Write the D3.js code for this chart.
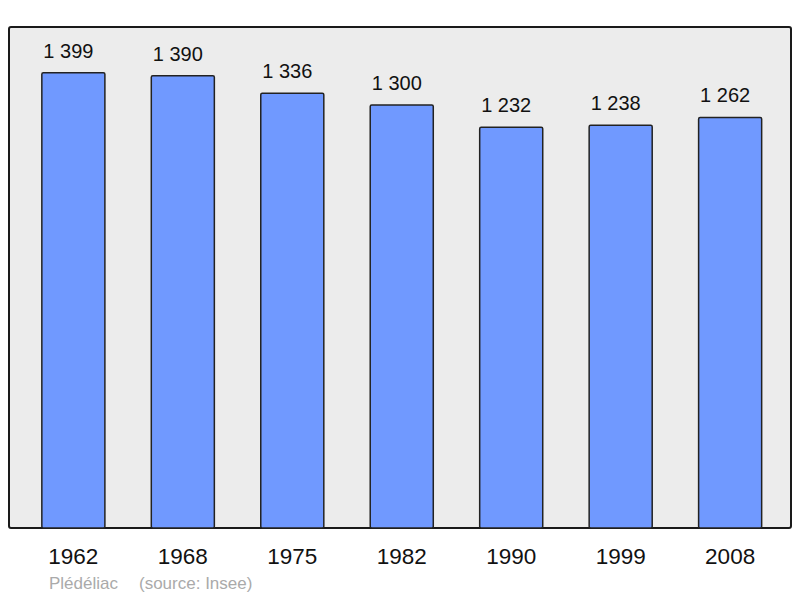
<!DOCTYPE html>
<html>
<head>
<meta charset="utf-8">
<script src="https://cdn.jsdelivr.net/npm/d3@7"></script>
<style>
  body { margin: 0; background: #fff; }
  text { font-family: "Liberation Sans", Arial, sans-serif; }
</style>
</head>
<body>
<div id="chart"></div>
<script>
var svgWidth = 800;
var svgHeight = 598;

// data
var years = ["1962", "1968", "1975", "1982", "1990", "1999", "2008"];
var population = [1399, 1390, 1336, 1300, 1232, 1238, 1262];
var commune = "Plédéliac";
var source = "(source: Insee)";

var frame = { left: 9, top: 27, right: 791, bottom: 528 };

var svg = d3.select("#chart")
    .append("svg")
    .attr("width", svgWidth)
    .attr("height", svgHeight);

// background frame
svg.append("rect")
    .attr("x", frame.left)
    .attr("y", frame.top)
    .attr("width", frame.right - frame.left)
    .attr("height", frame.bottom - frame.top)
    .attr("rx", 2)
    .attr("fill", "#ececec")
    .attr("stroke", "#1a1a1a")
    .attr("stroke-width", 2);

var xScale = d3.scaleBand()
    .domain(years)
    .range([9, 794.5])
    .paddingInner(0.424)
    .paddingOuter(0.3);

var yScale = d3.scaleLinear()
    .domain([0, 1540])
    .range([frame.bottom, frame.top]);

var data = years.map(function(y, i) {
    return { year: y, value: population[i] };
});

svg.selectAll("rect.bar")
    .data(data)
    .enter()
    .append("rect")
    .attr("class", "bar")
    .attr("x", d => xScale(d.year))
    .attr("y", d => yScale(d.value))
    .attr("width", xScale.bandwidth())
    .attr("height", d => frame.bottom - yScale(d.value))
    .attr("rx", 1.5)
    .attr("fill", "#7099ff")
    .attr("stroke", "#222")
    .attr("stroke-width", 1.5);

// value labels, thousands separated by a space
svg.selectAll("text.value")
    .data(data)
    .enter()
    .append("text")
    .attr("class", "value")
    .attr("x", d => xScale(d.year) + xScale.bandwidth() / 2)
    .attr("y", d => yScale(d.value) - 15)
    .attr("dx", -5)
    .attr("text-anchor", "middle")
    .attr("font-size", "20px")
    .attr("fill", "#111")
    .text(d => d3.format(",")(d.value).replace(",", " "));

// x axis labels
var xAxis = d3.axisBottom(xScale).tickSize(0).tickPadding(0);
var axisG = svg.append("g")
    .attr("transform", `translate(0, ${frame.bottom})`)
    .call(xAxis);
axisG.select(".domain").remove();
axisG.selectAll("text")
    .attr("dy", null)
    .attr("y", 36)
    .attr("font-size", "22.5px")
    .attr("font-family", "'Liberation Sans', Arial, sans-serif")
    .attr("fill", "#111");

// caption
svg.append("text")
    .attr("x", 49)
    .attr("y", 589)
    .attr("font-size", "17px")
    .attr("fill", "#aaa")
    .text(commune);

svg.append("text")
    .attr("x", 139)
    .attr("y", 589)
    .attr("font-size", "17px")
    .attr("fill", "#aaa")
    .text(source);
</script>
</body>
</html>
